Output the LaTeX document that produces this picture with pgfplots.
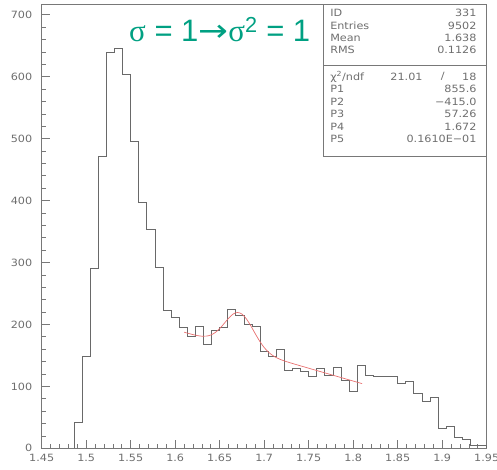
\documentclass[border=0pt]{standalone}
\usepackage{pgfplots}
\pgfplotsset{compat=1.18}
\usepackage{fontspec}
\setmainfont{DejaVu Sans}
\newfontfamily\statfont[FakeStretch=1.12]{DejaVu Sans}
\newfontfamily\titlefont{Liberation Sans}
\newfontfamily\seriffont{Liberation Serif}
\newfontfamily\arrowfont{DejaVu Sans}
\definecolor{titlecol}{RGB}{0,160,130}
\definecolor{histcol}{RGB}{105,105,105}
\definecolor{fitcol}{RGB}{232,112,112}
\definecolor{framecol}{RGB}{120,120,120}
\definecolor{labelcol}{RGB}{110,110,110}
\begin{document}
\begin{tikzpicture}
\begin{axis}[
  scale only axis, width=445pt, height=444pt,
  xmin=1.45, xmax=1.95, ymin=0, ymax=717,
  xtick={1.45,1.5,1.55,1.6,1.65,1.7,1.75,1.8,1.85,1.9,1.95},
  ytick={0,100,200,300,400,500,600,700},
  minor x tick num=4, minor y tick num=4,
  xtick pos=bottom, ytick pos=left,
  tick align=inside, major tick length=8pt, minor tick length=4pt,
  axis line style={draw=framecol, line width=0.8pt},
  every tick/.style={draw=framecol, line width=0.8pt},
  tick label style={font=\statfont\fontsize{10}{10}\selectfont, text=labelcol},
  /pgf/number format/assume math mode=true,
  xticklabel style={yshift=-2pt},
  yticklabel style={xshift=-6pt},
  clip=false,
]
\addplot[const plot mark left, draw=histcol, line width=0.9pt] coordinates {
(1.48636,0) (1.48636,42) (1.49545,149) (1.50455,290) (1.51364,471) (1.52273,640)
(1.53182,646) (1.54091,603) (1.55,496) (1.55909,397) (1.56818,354)
(1.57727,292) (1.58636,222) (1.59545,211) (1.60455,195) (1.61364,181)
(1.62273,197) (1.63182,168) (1.64091,190) (1.65,195) (1.65909,224)
(1.66818,214) (1.67727,200) (1.68636,197) (1.69545,156) (1.70455,148)
(1.71364,160) (1.72273,126) (1.73182,129) (1.74091,124) (1.75,116)
(1.75909,129) (1.76818,118) (1.77727,131) (1.78636,109) (1.79545,92)
(1.80455,133) (1.81364,117) (1.82273,116) (1.83182,116) (1.84091,116)
(1.85,104) (1.85909,108) (1.86818,89) (1.87727,76) (1.88636,82)
(1.89545,32) (1.90455,35) (1.91364,18) (1.92273,15) (1.93182,4)
(1.94091,5) (1.95,5) (1.95,0)
};
\addplot[draw=fitcol, line width=0.7pt, smooth] coordinates {
(1.610,187.5) (1.615,185.5) (1.620,183.6) (1.625,182.0) (1.630,181.05)
(1.635,181.16) (1.640,182.95) (1.645,186.96) (1.650,193.37) (1.655,201.57)
(1.660,210.07) (1.665,216.72) (1.670,219.37) (1.675,216.75) (1.680,209.01)
(1.685,197.66) (1.690,184.9) (1.695,172.81) (1.700,162.72) (1.705,155.03)
(1.710,149.48) (1.715,145.5) (1.720,142.47) (1.725,139.98) (1.730,137.74)
(1.740,133.51) (1.750,129.35) (1.760,125.2) (1.770,121.05) (1.780,116.9)
(1.790,112.75) (1.800,108.6) (1.810,104.45)
};
% title
\node[anchor=base west, text=titlecol, inner sep=0, font=\titlefont\fontsize{31}{31}\selectfont]
  at (rel axis cs:0.1962,0.9158) {{\seriffont σ} = 1{\arrowfont\scalebox{1.15}[1]{→}}{\seriffont σ}\textsuperscript{2} = 1};
% stats box
\draw[framecol, line width=0.8pt] (rel axis cs:0.633,0.6568) rectangle (rel axis cs:1,1);
\draw[framecol, line width=0.8pt] (rel axis cs:0.633,0.8617) -- (rel axis cs:1,0.8617);
\begin{scope}[every node/.style={inner sep=0, text=labelcol, font=\statfont\fontsize{10}{10}\selectfont}]
\node[anchor=west] at (rel axis cs:0.648,0.9797) {ID};
\node[anchor=east] at (rel axis cs:0.9775,0.9797) {331};
\node[anchor=west] at (rel axis cs:0.648,0.9518) {Entries};
\node[anchor=east] at (rel axis cs:0.9775,0.9518) {9502};
\node[anchor=west] at (rel axis cs:0.648,0.9248) {Mean};
\node[anchor=east] at (rel axis cs:0.9775,0.9248) {1.638};
\node[anchor=west] at (rel axis cs:0.648,0.8971) {RMS};
\node[anchor=east] at (rel axis cs:0.9775,0.8971) {0.1126};
\node[anchor=west] at (rel axis cs:0.648,0.8369) {χ\textsuperscript{2}/ndf};
\node[anchor=east] at (rel axis cs:0.8563,0.8369) {21.01};
\node at (rel axis cs:0.9012,0.8369) {/};
\node[anchor=east] at (rel axis cs:0.9775,0.8369) {18};
\node[anchor=west] at (rel axis cs:0.648,0.8086) {P1};
\node[anchor=east] at (rel axis cs:0.9775,0.8086) {855.6};
\node[anchor=west] at (rel axis cs:0.648,0.7806) {P2};
\node[anchor=east] at (rel axis cs:0.9775,0.7806) {−415.0};
\node[anchor=west] at (rel axis cs:0.648,0.7523) {P3};
\node[anchor=east] at (rel axis cs:0.9775,0.7523) {57.26};
\node[anchor=west] at (rel axis cs:0.648,0.7243) {P4};
\node[anchor=east] at (rel axis cs:0.9775,0.7243) {1.672};
\node[anchor=west] at (rel axis cs:0.648,0.6959) {P5};
\node[anchor=east] at (rel axis cs:0.9775,0.6959) {0.1610E−01};
\end{scope}
\end{axis}
\pgfresetboundingbox
\path[use as bounding box] ([shift={(-41.7pt,-20.7pt)}]current axis.south west) rectangle ([shift={(10.3pt,4.3pt)}]current axis.north east);
\end{tikzpicture}
\end{document}
